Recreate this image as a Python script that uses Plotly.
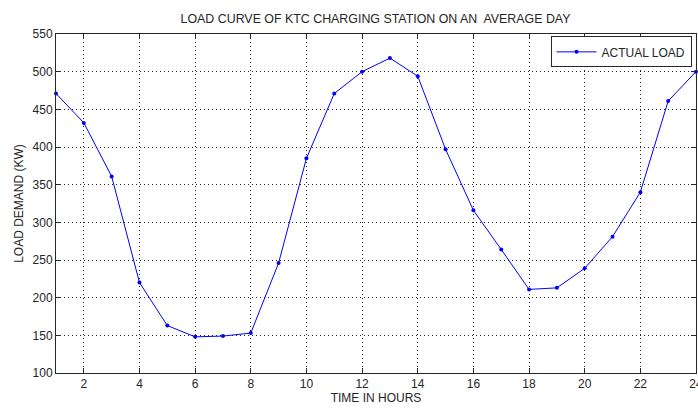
import plotly.graph_objects as go

hours = list(range(1, 25))
load_kw = [471, 432, 361, 220, 163, 148, 149, 153, 246, 385, 471, 500,
           518, 494, 397, 316, 264, 211, 213, 239, 281, 340, 461, 500]
x_ticks = list(range(2, 25, 2))
y_ticks = list(range(100, 551, 50))

fig = go.Figure()
fig.add_trace(go.Scatter(
    x=hours, y=load_kw, mode="lines+markers", name="ACTUAL LOAD",
    line=dict(color="#0000ff", width=1),
    marker=dict(color="#0000ff", size=4, symbol="circle"),
    cliponaxis=False,
))

axis_common = dict(
    showline=True, linecolor="#262626", linewidth=1, mirror="ticks",
    ticks="inside", ticklen=5, tickcolor="#262626",
    showgrid=True, gridcolor="#262626", griddash="1px,3px", gridwidth=1,
    zeroline=False, automargin=False, ticklabeloverflow="allow",
    tickfont=dict(family="Liberation Sans, Arial", size=12, color="#262626"),
)

fig.update_layout(
    width=698, height=409,
    paper_bgcolor="white", plot_bgcolor="white",
    margin=dict(l=56, r=2, t=34, b=36, autoexpand=False),
    font=dict(family="Liberation Sans, Arial", size=12, color="#262626"),
    title=dict(text="LOAD CURVE OF KTC CHARGING STATION ON AN  AVERAGE DAY",
               x=0.538, xanchor="center", y=0.955, yanchor="middle",
               font=dict(size=12.4, color="#262626")),
    xaxis=dict(range=[1, 24], tickvals=x_ticks,
               title=dict(text="TIME IN HOURS", standoff=2, font=dict(size=12)),
               **axis_common),
    yaxis=dict(range=[100, 550], tickvals=y_ticks,
               title=dict(text="LOAD DEMAND (KW)", standoff=6, font=dict(size=12)),
               **axis_common),
    showlegend=True,
    legend=dict(x=0.993, y=0.993, xanchor="right", yanchor="top",
                bgcolor="white", bordercolor="#262626", borderwidth=1,
                itemwidth=40,
                font=dict(size=12, color="#262626")),
)

fig.write_html("out.html", config={"displayModeBar": False},
               post_script="document.body.style.margin='0';document.body.style.overflow='hidden';")
